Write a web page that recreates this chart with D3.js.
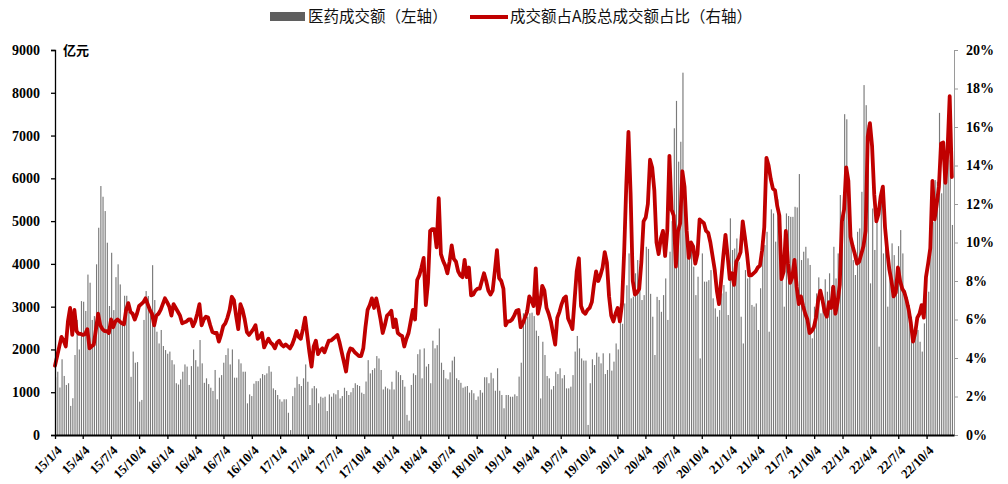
<!DOCTYPE html>
<html><head><meta charset="utf-8">
<script src="https://cdn.jsdelivr.net/npm/d3@7"></script>
<style>body{margin:0;background:#fff} svg{display:block}</style>
</head><body><svg id="c" width="1008" height="484"></svg>
<script>
// ---- data ----
const startDate = "2015-01-04";   // first weekly observation
const endDate = "2023-01-01";     // axis end
const seriesNames = ["医药成交额（左轴）", "成交额占A股总成交额占比（右轴）"];
const unitLabel = "亿元";
const tickLabels = ["15/1/4","15/4/4","15/7/4","15/10/4","16/1/4","16/4/4","16/7/4","16/10/4",
  "17/1/4","17/4/4","17/7/4","17/10/4","18/1/4","18/4/4","18/7/4","18/10/4",
  "19/1/4","19/4/4","19/7/4","19/10/4","20/1/4","20/4/4","20/7/4","20/10/4",
  "21/1/4","21/4/4","21/7/4","21/10/4","22/1/4","22/4/4","22/7/4","22/10/4"];
const leftTicks = [0,1000,2000,3000,4000,5000,6000,7000,8000,9000];
const rightTicks = [0,0.02,0.04,0.06,0.08,0.10,0.12,0.14,0.16,0.18,0.20];

// weekly medicine turnover (亿元)
const barValues = [
1350,1480,1110,1770,1380,1170,1210,680,860,1870,2690,
2000,3130,3115,2900,3750,3560,2690,2780,3990,4845,
5820,5570,5235,4495,3015,4260,2920,3690,3990,3520,
2600,3255,3255,2880,1360,1950,1690,1705,780,820,
2690,3365,3250,3000,3970,3155,2415,2140,2455,2080,
1985,1900,1950,
1750,1650,1210,1180,1300,1480,1650,1600,1170,1610,
2000,1750,1600,2220,1675,1220,1325,1190,1105,1030,
1520,835,1340,1400,1690,1870,2025,1650,2000,1340,
1340,1770,1675,1480,1480,740,950,910,1200,1260,
1260,1325,1425,1400,1440,1610,1480,1090,1050,935,
835,780,835,835,520,115,908,1105,1365,1190,
1145,1325,1650,1245,700,1090,1145,1090,740,895,
870,895,560,950,895,975,950,1050,
855,910,1105,1030,935,1000,1100,1210,1170,1145,
990,960,1250,1750,1440,1520,1560,1845,1790,1520,
1065,1130,1090,1065,1245,1065,1505,1470,1400,1285,
1130,470,335,1170,1440,1400,1890,2000,1325,2025,
1600,1660,1210,2205,2025,2100,2490,1690,1520,1325,
1300,1465,1740,1830,1325,1285,1220,1105,1130,1145,
990,1050,975,820,900,1050,990,1350,1350,1210,
1455,1325,1035,1560,1035,935,625,
935,935,895,895,950,910,1365,1690,2845,2920,
2765,2845,2860,2780,2440,2315,855,2180,1870,1380,
1325,1065,1145,1480,1425,1560,1325,1400,1090,1090,
1130,1400,1950,2315,2025,1790,1740,1740,235,1210,
1770,1635,1925,1830,1675,1910,1425,1520,1910,1505,
1715,2140,2000,3075,2600,3075,3500,4245,3195,3235,
3780,4090,3700,3155,3270,4400,4350,3300,
2765,1870,3230,3155,2880,3270,3660,2690,4285,5000,
7170,7810,6390,6855,8470,5180,4560,4245,4440,3935,
3270,3700,1790,4245,3585,3585,3620,3855,3195,2960,
2765,2920,3310,3505,3350,2805,5065,4325,4360,4595,
4050,2765,2140,3855,3660,3855,3040,3000,3075,2455,
3430,4245,4440,4750,2415,5275,5180,4520,5510,4830,
4205,3000,5180,5120,5100,5100,5335,5320,6100,4090,
4285,4400,4130,
3975,2260,3000,3310,3685,2845,3230,3640,3350,3780,
3465,4400,3660,4245,5610,5220,7500,7380,5025,4635,
4090,3740,4750,4830,5685,8180,7710,7245,3545,5295,
4325,4985,2065,5725,4245,4750,3000,3855,4480,4205,
3585,4415,4790,4245,3390,3230,3040,2765,2220,2375,
2455,2180,1950,2610,3620,3350,5570,4985,5960,5920,
7530,5650,6155,5960,6895,6425,4910];

// weekly share of A-share total turnover (%)
const shareValues = [
3.6,4.1,4.6,5.1,4.9,4.6,5.9,6.6,5.2,6.5,5.4,5.25,5.25,
5.2,5.25,5.5,4.5,4.6,4.7,5.5,6.3,5.7,5.5,5.4,5.4,5.3,
6.0,5.6,5.9,6.0,5.9,5.8,5.75,6.5,6.85,6.4,6.3,6.0,6.3,
6.7,6.8,6.9,7.1,6.8,6.5,6.3,5.7,6.2,6.3,6.5,6.8,7.1,
6.9,6.67,6.2,6.8,6.6,6.4,6.2,5.8,5.85,5.9,6.0,6.0,5.65,
5.9,6.3,6.8,5.7,6.0,6.15,6.1,5.7,5.35,5.3,5.3,4.85,5.2,
5.65,5.8,6.1,6.5,7.18,7.0,6.2,5.5,6.8,6.5,6.0,5.35,5.2,
5.35,5.5,5.7,5.0,5.1,5.3,4.55,4.8,5.0,4.8,4.7,4.5,4.8,
4.9,4.7,4.6,4.7,4.6,4.5,4.7,5.0,5.4,5.1,5.0,5.5,6.1,
5.2,4.3,3.55,4.6,4.9,4.2,4.4,4.5,4.3,4.6,4.9,4.9,5.0,
5.1,5.2,4.8,4.3,3.8,3.3,4.2,4.5,4.45,4.3,4.2,4.1,4.1,
4.5,5.6,6.5,6.75,7.1,6.6,7.1,6.6,6.0,5.3,5.7,6.2,6.3,
6.45,5.6,6.0,5.3,5.2,5.15,4.6,5.0,5.3,5.9,6.5,6.0,8.05,
8.3,8.7,9.2,6.75,7.9,10.6,10.7,10.7,9.75,12.3,9.4,9.05,8.8,
8.4,9.0,9.85,9.15,9.0,8.5,8.3,8.2,9.1,8.2,8.7,7.25,7.3,
7.5,7.6,7.6,8.0,8.4,8.0,7.5,7.3,7.5,8.5,9.6,8.15,8.0,
7.6,5.7,5.9,5.9,6.0,6.2,6.45,6.5,5.6,5.8,6.1,6.4,7.2,
7.0,6.7,8.66,6.3,6.8,7.75,7.5,6.6,6.3,5.9,5.3,4.7,6.1,
6.4,6.8,7.1,7.2,6.05,5.8,5.5,7.0,8.5,9.18,6.7,6.4,6.3,
6.5,6.6,6.9,7.8,8.5,8.0,8.3,8.7,9.5,8.95,7.2,6.2,5.9,
6.3,6.6,5.9,6.8,9.5,13.0,15.75,12.5,8.0,7.3,7.4,7.6,9.0,
11.1,11.3,12.0,14.3,13.9,12.7,10.0,9.4,10.2,10.6,9.3,10.6,14.5,
11.7,11.4,8.75,10.6,11.0,13.7,12.9,10.6,9.2,10.0,9.8,8.9,9.4,
11.2,11.1,11.0,10.6,10.5,10.0,9.3,8.6,7.5,6.8,8.05,9.3,10.4,
9.3,8.1,8.4,7.8,9.0,9.2,9.5,11.1,10.3,9.4,8.3,8.3,8.4,
8.5,8.7,8.8,9.6,10.8,14.4,14.0,13.3,12.8,12.7,11.9,11.4,8.1,
8.5,10.6,8.9,7.9,8.2,9.1,7.7,6.8,7.2,6.7,6.3,6.0,5.3,
5.4,5.6,6.1,7.0,7.5,7.0,6.4,6.15,6.9,6.6,7.7,6.3,6.9,
7.8,11.1,11.7,13.9,13.2,10.3,9.8,9.4,8.9,9.0,9.4,9.8,10.6,
15.5,16.2,15.0,12.5,11.1,11.5,12.4,12.9,10.8,9.6,8.6,8.0,
7.2,7.4,8.7,8.0,7.6,7.4,7.0,6.5,5.8,4.85,5.3,6.1,6.3,
6.75,6.1,8.2,8.9,9.7,13.2,11.2,12.0,12.9,15.15,15.2,13.1,14.8,17.6,13.4];

// ---- chart ----
const L = 55, R = 954, T = 50, B = 435;
const svg = d3.select("#c");
const parse = d3.timeParse("%Y-%m-%d");
const parseTick = d3.timeParse("%y/%m/%d");
const t0 = parse(startDate);
const n = Math.min(barValues.length, shareValues.length);
const data = d3.range(n).map(i => ({date: d3.timeDay.offset(t0, 7 * i), bar: barValues[i], share: shareValues[i] / 100}));

const x = d3.scaleTime().domain([t0, parse(endDate)]).range([L, R]);
const yL = d3.scaleLinear().domain([0, 9000]).range([B, T]);
const yR = d3.scaleLinear().domain([0, 0.20]).range([B, T]);

const serif = "'Liberation Serif','Times New Roman',serif";
const cjk = "'Noto Sans CJK SC','Noto Sans',sans-serif";

// bars
const bw = 1.15;
svg.append("g").selectAll("rect").data(data).join("rect")
  .attr("x", d => x(d.date) - bw / 2 + 0.6)
  .attr("width", bw)
  .attr("y", d => yL(d.bar))
  .attr("height", d => yL(0) - yL(d.bar))
  .attr("fill", "#7a7a7a");

// line
svg.append("path").datum(data)
  .attr("fill", "none").attr("stroke", "#c00000").attr("stroke-width", 3.8)
  .attr("stroke-linejoin", "round").attr("stroke-linecap", "round")
  .attr("d", d3.line().x(d => x(d.date)).y(d => yR(d.share)));

// left axis
const gL = svg.append("g").attr("transform", `translate(${L},0)`)
  .call(d3.axisLeft(yL).tickValues(leftTicks).tickSize(4).tickPadding(11).tickFormat(d3.format("d")));
gL.select(".domain").attr("stroke", "#000").attr("stroke-width", 1.3);
gL.selectAll(".tick line").attr("stroke", "#000").attr("stroke-width", 1.3);
gL.selectAll("text").attr("font-family", serif).attr("font-weight", "bold").attr("font-size", 14).attr("fill", "#000");

// right axis
const gR = svg.append("g").attr("transform", `translate(${R},0)`)
  .call(d3.axisRight(yR).tickValues(rightTicks).tickSize(4).tickPadding(8).tickFormat(d3.format(".0%")));
gR.select(".domain").attr("stroke", "#9a9a9a").attr("stroke-width", 1);
gR.selectAll(".tick line").attr("stroke", "#9a9a9a");
gR.selectAll("text").attr("font-family", serif).attr("font-weight", "bold").attr("font-size", 14).attr("fill", "#000");

// bottom axis
const tickDates = tickLabels.map(s => parseTick(s));
const gB = svg.append("g").attr("transform", `translate(0,${B})`)
  .call(d3.axisBottom(x).tickValues(tickDates).tickSize(4).tickSizeOuter(0).tickFormat((d, i) => tickLabels[i]));
gB.select(".domain").attr("stroke", "#000").attr("stroke-width", 2);
gB.selectAll(".tick line").attr("stroke", "#000").attr("stroke-width", 1.3);
gB.selectAll("text")
  .attr("font-family", serif).attr("font-weight", "bold").attr("font-size", 13).attr("fill", "#000")
  .attr("text-anchor", "end").attr("x", 0).attr("y", 0).attr("dy", "0.35em")
  .attr("transform", "translate(4,13) rotate(-45)");

// unit label
svg.append("text").attr("x", 63).attr("y", 50).attr("dy", "0.35em")
  .attr("font-family", cjk).attr("font-weight", "bold").attr("font-size", 13).text(unitLabel);

// legend
const lg = svg.append("g");
lg.append("rect").attr("x", 270).attr("y", 12).attr("width", 35).attr("height", 9).attr("fill", "#5f5f5f");
lg.append("text").attr("x", 308).attr("y", 17).attr("dy", "0.35em")
  .attr("font-family", cjk).attr("font-size", 15.5).attr("fill", "#111").text(seriesNames[0]);
lg.append("line").attr("x1", 470).attr("x2", 508).attr("y1", 17).attr("y2", 17)
  .attr("stroke", "#c00000").attr("stroke-width", 4);
lg.append("text").attr("x", 510).attr("y", 17).attr("dy", "0.35em")
  .attr("font-family", cjk).attr("font-size", 15.5).attr("fill", "#111").text(seriesNames[1]);
</script>
</body></html>
